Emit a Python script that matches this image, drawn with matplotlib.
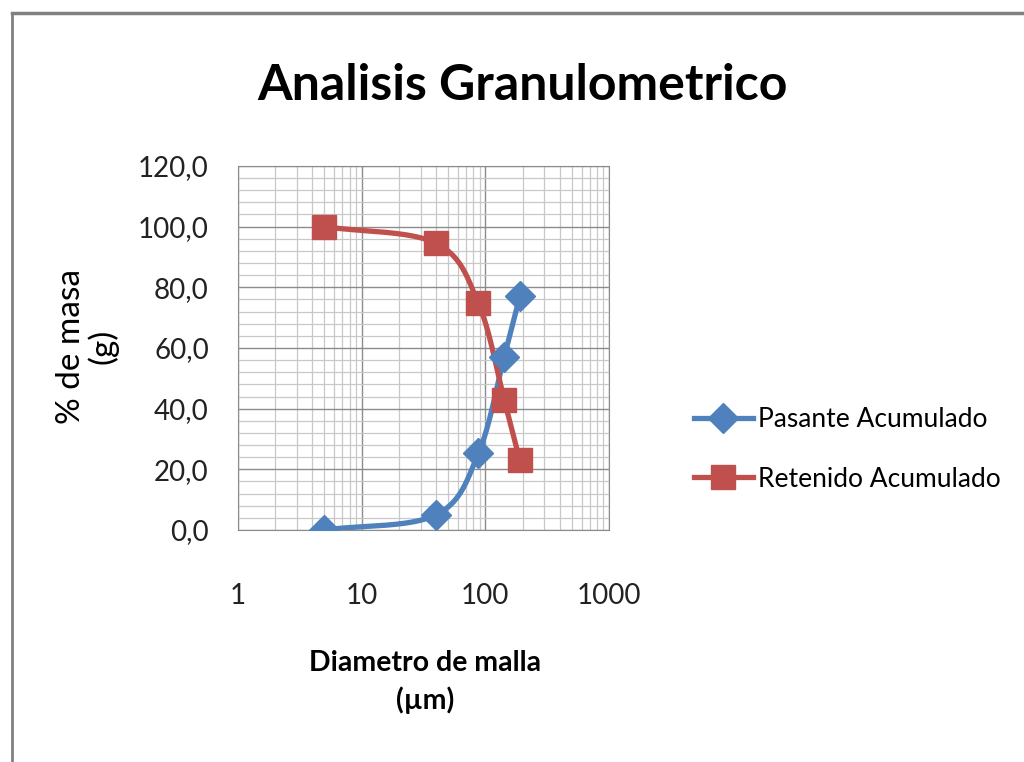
import numpy as np
import matplotlib
matplotlib.use('Agg')
import matplotlib.pyplot as plt
from matplotlib.lines import Line2D
from matplotlib.ticker import FixedLocator, LogLocator, NullFormatter

# Datos
diametro = [5, 40, 88, 142, 190]
pasante = [0.0, 5.0, 25.3, 57.0, 77.0]
retenido = [100.0, 94.5, 74.7, 43.0, 23.0]
ticks_y = [0, 20, 40, 60, 80, 100, 120]
ticks_x = [1, 10, 100, 1000]

plt.rcParams['font.family'] = ['Lato', 'DejaVu Sans']

azul = '#4F81BD'
rojo = '#C0504D'


def suavizar(x, y, n=40):
    # curva tipo Catmull-Rom (como la linea suavizada de Excel), en escala log
    lx = np.log10(np.asarray(x, float))
    yy = np.asarray(y, float)
    px = np.concatenate([[2 * lx[0] - lx[1]], lx, [2 * lx[-1] - lx[-2]]])
    py = np.concatenate([[2 * yy[0] - yy[1]], yy, [2 * yy[-1] - yy[-2]]])
    xs, ys = [], []
    t = np.linspace(0, 1, n)
    for i in range(1, len(px) - 2):
        for p, out in ((px, xs), (py, ys)):
            p0, p1, p2, p3 = p[i - 1], p[i], p[i + 1], p[i + 2]
            c1 = p1 + (p2 - p0) / 6
            c2 = p2 - (p3 - p1) / 6
            out.extend((1 - t) ** 3 * p1 + 3 * (1 - t) ** 2 * t * c1
                       + 3 * (1 - t) * t ** 2 * c2 + t ** 3 * p2)
    return 10 ** np.array(xs), np.array(ys)


fig = plt.figure(figsize=(10.24, 7.62), dpi=100)
ax = fig.add_axes([0.2324, 0.3045, 0.3623, 0.4777])

ax.set_xscale('log')
ax.set_xlim(1, 1000)
ax.set_ylim(0, 120)

sx, sy = suavizar(diametro, pasante)
ax.plot(sx, sy, color=azul, lw=3.8, zorder=3)
ax.plot(diametro, pasante, ls='none', marker='D', ms=15, color=azul, zorder=4)
sx, sy = suavizar(diametro, retenido)
ax.plot(sx, sy, color=rojo, lw=3.8, zorder=3)
ax.plot(diametro, retenido, ls='none', marker='s', ms=17, color=rojo, zorder=4)

ax.yaxis.set_major_locator(FixedLocator(ticks_y))
ax.yaxis.set_minor_locator(FixedLocator(np.arange(0, 121, 4)))
ax.set_yticklabels([f'{v:.1f}'.replace('.', ',') for v in ticks_y])
ax.xaxis.set_major_locator(FixedLocator(ticks_x))
ax.xaxis.set_minor_locator(LogLocator(base=10, subs=np.arange(2, 10)))
ax.xaxis.set_minor_formatter(NullFormatter())
ax.set_xticklabels([str(v) for v in ticks_x])

ax.grid(which='major', color='#8c8c8c', lw=1.0)
ax.grid(which='minor', color='#c8c8c8', lw=0.9)
ax.set_axisbelow(True)
ax.tick_params(which='both', length=0)
ax.tick_params(axis='y', pad=21, labelsize=20, colors='#222222')
ax.tick_params(axis='x', pad=38, labelsize=20, colors='#222222')
for s in ax.spines.values():
    s.set_color('#8c8c8c')

fig.text(0.51, 0.888, 'Analisis Granulometrico', ha='center', va='center',
         fontsize=36, fontweight='bold')
fig.text(0.085, 0.545, '% de masa\n(g)', ha='center', va='center', rotation=90,
         fontsize=24, linespacing=1.05)
fig.text(0.415, 0.105, 'Diametro de malla\n(µm)', ha='center', va='center',
         fontsize=20.5, fontweight='bold', linespacing=1.5)

manijas = [Line2D([], [], color=azul, lw=3.8, marker='D', ms=15),
           Line2D([], [], color=rojo, lw=3.8, marker='s', ms=17)]
fig.legend(manijas, ['Pasante Acumulado', 'Retenido Acumulado'],
           loc='center left', bbox_to_anchor=(0.655, 0.41), frameon=False,
           fontsize=19, handlelength=2.2, handletextpad=0.2, labelspacing=1.3)

# marco del area del grafico (recortado arriba e izquierda)
fig.add_artist(Line2D([0.012, 1.0], [0.983, 0.983], color='#808080', lw=2.5,
                      transform=fig.transFigure))
fig.add_artist(Line2D([0.012, 0.012], [0.0, 0.983], color='#808080', lw=2.0,
                      transform=fig.transFigure))

fig.savefig('out.png', dpi=100)
